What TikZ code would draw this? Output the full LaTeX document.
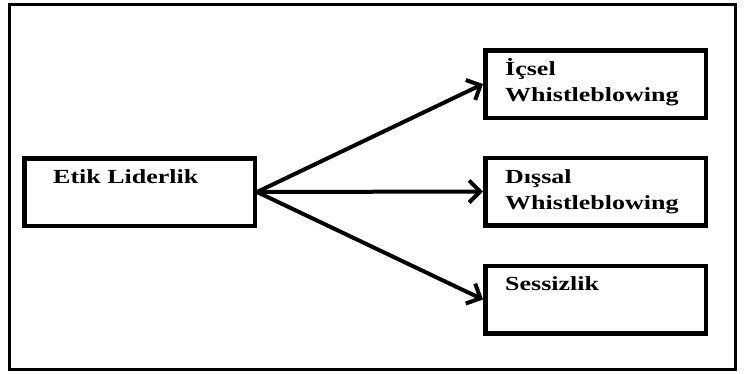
\documentclass[tikz,border=0pt]{standalone}
\usepackage{fontspec}
\setmainfont{Liberation Serif}[FakeStretch=1.3]
\usetikzlibrary{arrows.meta}
\begin{document}
\begin{tikzpicture}[x=1pt,y=-1pt,
  box/.style={draw=black,line width=4.5pt,minimum width=220.5pt,minimum height=67.5pt,inner sep=0pt},
  lbl/.style={anchor=base west,inner sep=0pt,font=\fontsize{20pt}{26pt}\selectfont\bfseries,align=left},
  conn/.style={line width=4pt,-{Straight Barb[length=11pt,width=22pt,line width=4pt]}}]
\useasboundingbox (0,0) rectangle (745,373);
\draw[line width=3.5pt] (9.5,4.5) rectangle (735.5,369.5);
\node[box,minimum width=230.5pt] (etik) at (139.5,192) {};
\node[box] (icsel) at (595.5,84) {};
\node[box] (dissal) at (595.5,191.5) {};
\node[box] (sessiz) at (595.5,299.5) {};
\node[lbl] (tetik) at (53,183) {Etik Liderlik};
\node[lbl] (ticsel) at (505,101) {İçsel\\Whistleblowing};
\node[lbl] (tdissal) at (505,209) {Dışsal\\Whistleblowing};
\node[lbl] (tsessiz) at (505,290) {Sessizlik};
\draw[conn] (etik.east) -- (icsel.west);
\draw[conn] (etik.east) -- (dissal.west);
\draw[conn] (etik.east) -- (sessiz.west);
\end{tikzpicture}
\end{document}
